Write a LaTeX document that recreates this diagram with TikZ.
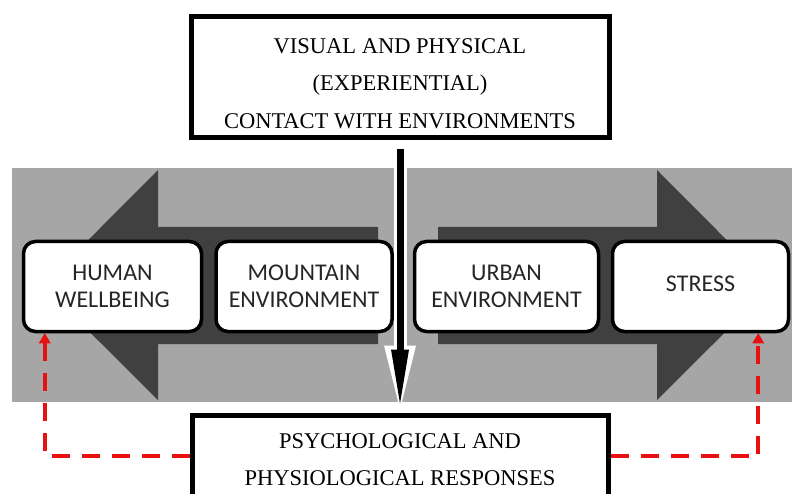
\documentclass[tikz,border=0pt]{standalone}
\usepackage{fontspec}
\setmainfont{Liberation Serif}
\newfontfamily\boxfont{Carlito}
\usetikzlibrary{arrows.meta}
\definecolor{bandgrey}{RGB}{166,166,166}
\definecolor{arrowgrey}{RGB}{64,64,64}
\definecolor{loopred}{RGB}{232,16,16}

\begin{document}
\begin{tikzpicture}[x=1pt,y=-1pt]
    \pgfmathsetmacro{\bandtop}{168}
    \pgfmathsetmacro{\bandbot}{402}
    \pgfmathsetmacro{\mid}{285.5}
    \pgfmathsetmacro{\boxy}{286.5}
    \tikzset{
        envbox/.style={draw=black,line width=3.5pt,rounded corners=12pt,fill=white,
            minimum width=176pt,minimum height=90pt,inner sep=0pt,align=center,
            font=\boxfont\fontsize{24}{27}\selectfont,text=black!85},
        textbox/.style={draw=black,line width=5pt,fill=white,inner sep=0pt,align=center,
            font=\fontsize{22.5}{37.5}\selectfont},
        feedback/.style={draw=loopred,line width=4pt,dash pattern=on 18pt off 12pt,
            -{Triangle[length=10pt,width=12pt,line width=0pt]}}
    }
    \useasboundingbox (0,0) rectangle (792,494);
    \clip (0,0) rectangle (792,494);
    % grey band with the two dark arrows
    \fill[bandgrey] (12,\bandtop) rectangle (792,\bandbot);
    \fill[arrowgrey] (378,227) -- (158,227) -- (158,170) -- (43,\mid) -- (158,400) -- (158,344) -- (378,344) -- cycle;
    \fill[arrowgrey] (438,227) -- (657,227) -- (657,170) -- (772,\mid) -- (657,400) -- (657,344) -- (438,344) -- cycle;

    \node[textbox,minimum width=418pt,minimum height=121pt] (contact) at (400,77.5) {\rule{0pt}{27pt}VISUAL AND PHYSICAL\\(EXPERIENTIAL)\\CONTACT WITH ENVIRONMENTS};
    \node[textbox,minimum width=416pt,minimum height=82pt] (responses) at (400,456) {\rule{0pt}{22pt}PSYCHOLOGICAL AND\\PHYSIOLOGICAL RESPONSES};

    \node[envbox,minimum width=178pt] (wellbeing) at (112.5,\boxy) {HUMAN\\WELLBEING};
    \node[envbox] (mountain) at (304,\boxy) {MOUNTAIN\\ENVIRONMENT};
    \node[envbox,minimum width=184pt] (urban) at (506.5,\boxy) {URBAN\\ENVIRONMENT};
    \node[envbox] (stress) at (700.5,\boxy) {STRESS\rule[-6pt]{0pt}{6pt}};

    % contact leads to responses
    \draw[white,line width=13pt,-{Triangle[length=64pt,width=32pt,line width=0pt]},shorten <=6pt,shorten >=3pt] (contact) -- (responses);
    \draw[black,line width=7pt,-{Triangle[length=54pt,width=18pt,line width=0pt]},shorten <=9pt,shorten >=9pt] (contact) -- (responses);

    % feedback loops
    \draw[feedback] (responses.west) -| ([xshift=23pt]wellbeing.south west);
    \draw[feedback] (responses.east) -| ([xshift=-32pt]stress.south east);
\end{tikzpicture}
\end{document}
